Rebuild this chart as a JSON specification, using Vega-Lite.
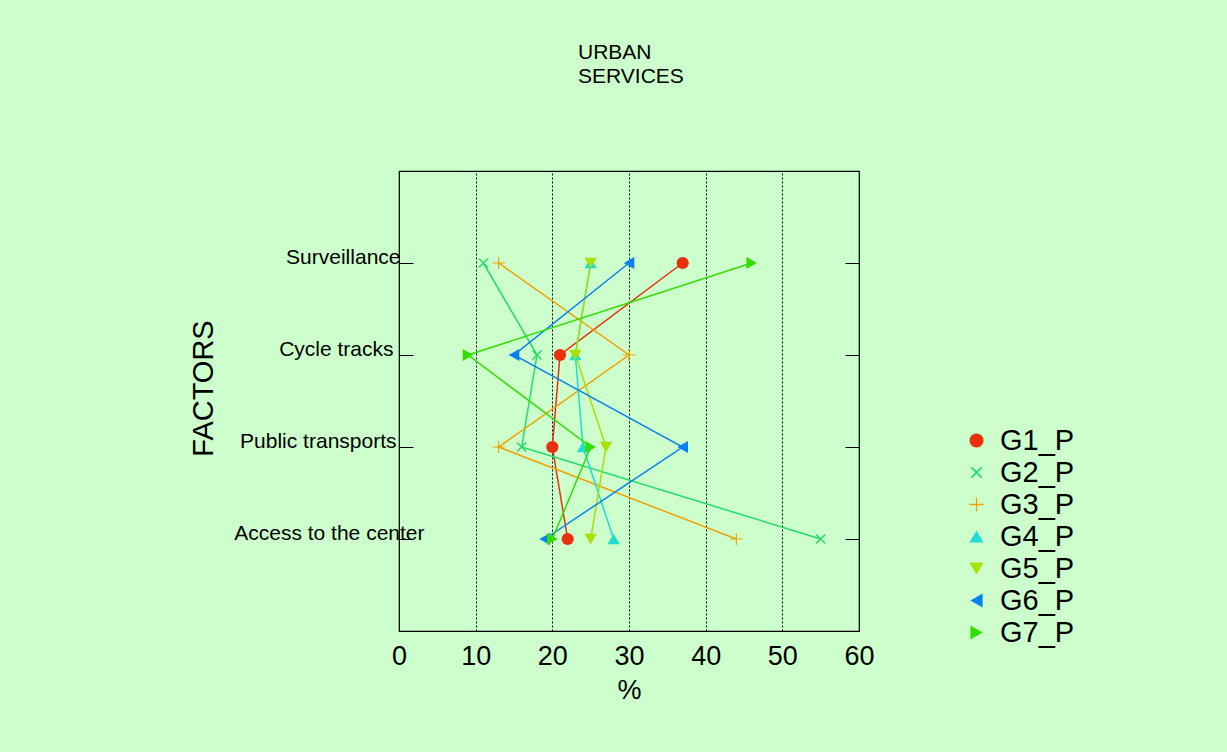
{
  "$schema": "https://vega.github.io/schema/vega-lite/v6.json",
  "autosize": {"type": "none"},
  "padding": {"left": 399, "top": 171, "right": 368, "bottom": 121},
  "width": 460,
  "height": 460,
  "background": "#ccffcc",
  "config": {
    "font": "Liberation Sans",
    "view": {"stroke": "#000000", "strokeWidth": 1.2, "fill": "#ccffcc"},
    "axis": {"labelFont": "Liberation Sans", "titleFont": "Liberation Sans", "labelColor": "#000000", "titleColor": "#000000", "titleFontWeight": "normal", "domain": false, "tickColor": "#000000"},
    "legend": {"labelFont": "Liberation Sans", "labelColor": "#000000"}
  },
  "title": {
    "text": ["URBAN", "SERVICES"],
    "fontSize": 21,
    "fontWeight": "normal",
    "font": "Liberation Sans",
    "color": "#000000",
    "anchor": "start",
    "frame": "group",
    "dx": 179,
    "offset": 84,
    "lineHeight": 24
  },
  "data": {
    "values": [
      {"factor": "Surveillance", "row": 1, "group": "G1_P", "value": 37},
      {"factor": "Cycle tracks", "row": 2, "group": "G1_P", "value": 21},
      {"factor": "Public transports", "row": 3, "group": "G1_P", "value": 20},
      {"factor": "Access to the center", "row": 4, "group": "G1_P", "value": 22},
      {"factor": "Surveillance", "row": 1, "group": "G2_P", "value": 11},
      {"factor": "Cycle tracks", "row": 2, "group": "G2_P", "value": 18},
      {"factor": "Public transports", "row": 3, "group": "G2_P", "value": 16},
      {"factor": "Access to the center", "row": 4, "group": "G2_P", "value": 55},
      {"factor": "Surveillance", "row": 1, "group": "G3_P", "value": 13},
      {"factor": "Cycle tracks", "row": 2, "group": "G3_P", "value": 30},
      {"factor": "Public transports", "row": 3, "group": "G3_P", "value": 13},
      {"factor": "Access to the center", "row": 4, "group": "G3_P", "value": 44},
      {"factor": "Surveillance", "row": 1, "group": "G4_P", "value": 25},
      {"factor": "Cycle tracks", "row": 2, "group": "G4_P", "value": 23},
      {"factor": "Public transports", "row": 3, "group": "G4_P", "value": 24},
      {"factor": "Access to the center", "row": 4, "group": "G4_P", "value": 28},
      {"factor": "Surveillance", "row": 1, "group": "G5_P", "value": 25},
      {"factor": "Cycle tracks", "row": 2, "group": "G5_P", "value": 23},
      {"factor": "Public transports", "row": 3, "group": "G5_P", "value": 27},
      {"factor": "Access to the center", "row": 4, "group": "G5_P", "value": 25},
      {"factor": "Surveillance", "row": 1, "group": "G6_P", "value": 30},
      {"factor": "Cycle tracks", "row": 2, "group": "G6_P", "value": 15},
      {"factor": "Public transports", "row": 3, "group": "G6_P", "value": 37},
      {"factor": "Access to the center", "row": 4, "group": "G6_P", "value": 19},
      {"factor": "Surveillance", "row": 1, "group": "G7_P", "value": 46},
      {"factor": "Cycle tracks", "row": 2, "group": "G7_P", "value": 9},
      {"factor": "Public transports", "row": 3, "group": "G7_P", "value": 25},
      {"factor": "Access to the center", "row": 4, "group": "G7_P", "value": 20}
    ]
  },
  "layer": [
    {
      "mark": {"type": "line", "strokeWidth": 1.5},
      "encoding": {
        "x": {
          "field": "value", "type": "quantitative",
          "scale": {"domain": [0, 60], "nice": false, "zero": true},
          "axis": {"values": [0, 10, 20, 30, 40, 50, 60], "title": "%", "titleFontSize": 27, "labelFontSize": 27, "ticks": false, "labelPadding": 12, "titlePadding": 8, "grid": true, "gridColor": "#000000", "gridDash": [2, 2], "gridWidth": 1, "labelFlush": false}
        },
        "y": {
          "field": "factor", "type": "nominal",
          "sort": ["Surveillance", "Cycle tracks", "Public transports", "Access to the center"],
          "scale": {"type": "point", "padding": 1},
          "axis": {"orient": "left", "title": "FACTORS", "titleFontSize": 29, "labelFontSize": 21, "labelLimit": 400, "tickSize": -14, "tickWidth": 1,
            "labelPadding": {"expr": "datum.value === 'Access to the center' ? -11 : datum.value === 'Cycle tracks' ? 20 : datum.value === 'Public transports' ? 17 : 13"},
            "labelBaseline": "alphabetic", "grid": false, "titleX": -196, "titleY": 217, "titleAlign": "center", "titleBaseline": "middle", "titleAngle": 270}
        },
        "color": {"field": "group", "type": "nominal",
          "scale": {"domain": ["G1_P", "G2_P", "G3_P", "G4_P", "G5_P", "G6_P", "G7_P"], "range": ["#e8300e", "#22dd66", "#f0a000", "#20ddd0", "#a8e000", "#0a80f0", "#33dd00"]}},
        "detail": {"field": "group"},
        "order": {"field": "row", "type": "quantitative"}
      }
    },
    {
      "mark": {"type": "point", "filled": true, "size": 150, "opacity": 1},
      "encoding": {
        "x": {"field": "value", "type": "quantitative"},
        "y": {
          "field": "factor", "type": "nominal",
          "sort": ["Surveillance", "Cycle tracks", "Public transports", "Access to the center"],
          "axis": {"orient": "right", "title": null, "labels": false, "tickSize": -14, "tickWidth": 1, "grid": false}
        },
        "color": {"field": "group", "type": "nominal",
          "legend": {"title": null, "orient": "none", "legendX": 563, "legendY": 255, "labelFontSize": 29, "symbolSize": 200, "symbolStrokeWidth": 0, "labelOffset": 9, "rowPadding": 2}},
        "shape": {"field": "group", "type": "nominal",
          "scale": {"domain": ["G1_P", "G2_P", "G3_P", "G4_P", "G5_P", "G6_P", "G7_P"], "range": ["circle", "M-0.658,-0.827L0,-0.17L0.658,-0.827L0.827,-0.658L0.17,0L0.827,0.658L0.658,0.827L0,0.17L-0.658,0.827L-0.827,0.658L-0.17,0L-0.827,-0.658Z", "M-1,-0.09L-0.09,-0.09L-0.09,-1L0.09,-1L0.09,-0.09L1,-0.09L1,0.09L0.09,0.09L0.09,1L-0.09,1L-0.09,0.09L-1,0.09Z", "triangle-up", "triangle-down", "triangle-left", "triangle-right"]},
          "legend": {"title": null, "orient": "none", "legendX": 563, "legendY": 255, "labelFontSize": 29, "symbolSize": 200, "symbolStrokeWidth": 0, "labelOffset": 9, "rowPadding": 2}}
      }
    }
  ],
  "resolve": {"axis": {"y": "independent"}}
}
